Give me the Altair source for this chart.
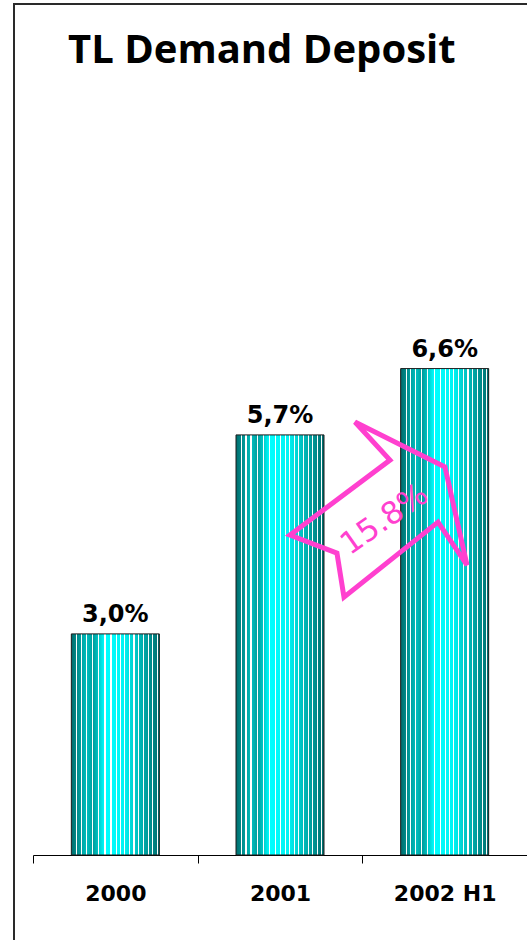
import altair as alt
import pandas as pd

# ---- data -------------------------------------------------------------
categories = ["2000", "2001", "2002 H1"]
values = [3.0, 5.7, 6.6]
value_labels = ["3,0%", "5,7%", "6,6%"]
growth_label = ["15.8%"]
title_text = ["TL Demand Deposit"]

df = pd.DataFrame({"period": categories, "share": values, "label": value_labels})
growth_df = pd.DataFrame({"g": growth_label})
title_df = pd.DataFrame({"t": title_text})

# ---- style helpers ------------------------------------------------------
def hex_to_rgb(h):
    h = h.lstrip("#")
    return tuple(int(h[i:i + 2], 16) for i in (0, 2, 4))


def rgb_to_hex(c):
    return "#%02x%02x%02x" % tuple(int(round(v)) for v in c)


base_stops = [(0.0, "#006c6c"), (0.18, "#00c0c0"), (0.25, "#009a9a"),
              (0.38, "#00ffff"), (0.6, "#00f4f4"), (1.0, "#006c6c")]


def base_color(t):
    for (o1, c1), (o2, c2) in zip(base_stops[:-1], base_stops[1:]):
        if o1 <= t <= o2:
            f = 0 if o2 == o1 else (t - o1) / (o2 - o1)
            a, b = hex_to_rgb(c1), hex_to_rgb(c2)
            return rgb_to_hex([a[i] + (b[i] - a[i]) * f for i in range(3)])
    return base_stops[-1][1]


stripe_pos = [0.057, 0.107, 0.164, 0.233, 0.302, 0.376, 0.445, 0.503, 0.552,
              0.598, 0.655, 0.705, 0.759, 0.813, 0.866, 0.920, 0.969]
sw = 0.013
stops = [alt.GradientStop(offset=0.0, color=base_color(0.0))]
for p in stripe_pos:
    stops += [alt.GradientStop(offset=p, color=base_color(p)),
              alt.GradientStop(offset=p, color="#ffffff"),
              alt.GradientStop(offset=p + sw, color="#ffffff"),
              alt.GradientStop(offset=p + sw, color=base_color(p + sw))]
stops.append(alt.GradientStop(offset=1.0, color=base_color(1.0)))
bar_fill = alt.Gradient(gradient="linear", stops=stops, x1=0, x2=1, y1=0, y2=0)

PINK = "#ff40cf"
arrow_path = ("M -0.978 0.278 L 0.133 -0.556 L -0.256 -0.978 L 0.744 -0.478 "
              "L 0.989 0.611 L 0.667 0.133 L -0.378 0.967 L -0.456 0.478 Z")

W, H = 494, 737

x_enc = alt.X("period:N", sort=categories, title=None,
              scale=alt.Scale(paddingInner=0, paddingOuter=0),
              axis=alt.Axis(labelAngle=0, labelFont="DejaVu Sans", labelFontSize=22,
                            labelFontWeight="bold", labelColor="#000000",
                            labelPadding=20, tickBand="extent", tickSize=8,
                            tickColor="#000000", domainColor="#000000",
                            tickWidth=1, domainWidth=1, grid=False))
y_enc = alt.Y("share:Q", scale=alt.Scale(domain=[0, 10]), axis=None)

frame = alt.Chart(alt.Data(values=[{}])).mark_rect(
    fill="transparent", stroke="#2a2a2a", strokeWidth=2
).encode(x=alt.value(-19), x2=alt.value(W + 60), y=alt.value(-114), y2=alt.value(H + 300))

title = alt.Chart(title_df).mark_text(
    font="Open Sans", fontSize=40, fontWeight="bold", color="#000000",
    align="left", baseline="alphabetic"
).encode(x=alt.value(35), y=alt.value(-55), text="t:N")

bars = alt.Chart(df).mark_bar(size=88, color=bar_fill, stroke="#1a1a1a",
                              strokeWidth=1).encode(x=x_enc, y=y_enc)

vlabels = alt.Chart(df).mark_text(font="DejaVu Sans", fontSize=24, fontWeight="bold",
                                  color="#000000", baseline="alphabetic", dy=-12).encode(
    x=x_enc, y=y_enc, text="label:N")

arrow = alt.Chart(growth_df).mark_point(
    shape=arrow_path, size=32400, filled=False, stroke=PINK, strokeWidth=5,
    opacity=1, strokeJoin="miter", xOffset=98
).encode(x=alt.X(datum="2001", type="nominal"), y=alt.Y(datum=4.68, type="quantitative"))

gtext = alt.Chart(growth_df).mark_text(
    font="DejaVu Sans", fontSize=31, color=PINK, angle=325, align="center",
    baseline="middle", xOffset=105
).encode(x=alt.X(datum="2001", type="nominal"), y=alt.Y(datum=4.545, type="quantitative"),
         text="g:N")

chart = alt.layer(frame, title, bars, vlabels, arrow, gtext).properties(
    width=W, height=H,
    autosize=alt.AutoSizeParams(type="none"),
    padding={"left": 33, "top": 118, "right": 0, "bottom": 85},
).configure(background="#ffffff").configure_view(stroke="transparent", strokeWidth=0)

chart.save("out.html", embed_options={"renderer": "svg", "actions": False})
